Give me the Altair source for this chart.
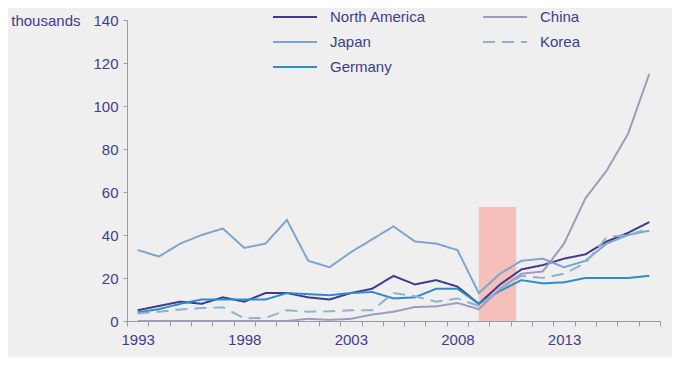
import altair as alt
import pandas as pd

years = list(range(1993, 2018))
north_america = [5, 7, 9, 8, 11, 9, 13, 13, 11, 10, 13, 15, 21, 17, 19, 16, 8, 17, 24, 26, 29, 31, 37, 41, 46]
japan = [33, 30, 36, 40, 43, 34, 36, 47, 28, 25, 32, 38, 44, 37, 36, 33, 13, 22, 28, 29, 25, 28, 36, 40, 42]
germany = [4, 5.5, 8, 10, 10, 10, 10, 13, 12.5, 12, 13, 13.5, 10.5, 11, 15, 15, 8, 14, 19, 17.5, 18, 20, 20, 20, 21]
china = [0, 0, 0, 0, 0, 0, 0, 0, 1, 0.5, 1, 3, 4.3, 6.5, 6.8, 8.4, 5.5, 15, 22, 23, 36, 57, 70, 87, 115]
korea = [3.5, 4.3, 5.4, 6, 6.4, 1.2, 1.5, 5, 4.3, 4.5, 5, 5, 13, 11.5, 9, 10.5, 7, 15, 21, 20, 22, 27, 39, 40, 43]

series_names = ["North America", "Japan", "Germany", "China", "Korea"]
series_colors = ["#3e3b8c", "#7fa5cb", "#2f8dc6", "#9d9cb9", "#8fb2d2"]
series_dashes = [[1, 0], [1, 0], [1, 0], [1, 0], [12, 7]]
legend_columns = [0, 0, 0, 1, 1]
legend_rows = [0, 1, 2, 0, 1]

label_years = [1993, 1998, 2003, 2008, 2013]
y_ticks = [0, 20, 40, 60, 80, 100, 120, 140]
recession_start, recession_end, recession_height = 2009, 2010.75, 53

series_values = {
    "North America": north_america,
    "China": china,
    "Japan": japan,
    "Korea": korea,
    "Germany": germany,
}
rows = []
for name in series_names:
    for yr, v in zip(years, series_values[name]):
        rows.append({"year": yr, "value": v, "region": name})
df = pd.DataFrame(rows)

rect_df = pd.DataFrame([{"x": recession_start, "x2": recession_end, "y": 0, "y2": recession_height}])

# legend layout (pixels relative to the plot area)
LEG_X0, LEG_COL_W, LEG_Y0, LEG_ROW_H, SYM_W, LAB_GAP = 146, 210, -3, 25, 44, 13
legend_df = pd.DataFrame(
    [
        {
            "region": n,
            "px": LEG_X0 + c * LEG_COL_W,
            "px2": LEG_X0 + c * LEG_COL_W + SYM_W,
            "tx": LEG_X0 + c * LEG_COL_W + SYM_W + LAB_GAP,
            "py": LEG_Y0 + r * LEG_ROW_H,
        }
        for n, c, r in zip(series_names, legend_columns, legend_rows)
    ]
)

text_color = "#3f3d8e"
font = "Liberation Sans"

x_values = [1992.5 + k for k in range(len(years) + 1)] + label_years

x_scale = alt.Scale(domain=[1992.5, 2017.5], nice=False, zero=False)
y_scale = alt.Scale(domain=[0, 140], nice=False)
color_scale = alt.Scale(domain=series_names, range=series_colors)
dash_scale = alt.Scale(domain=series_names, range=series_dashes)

x_axis = alt.Axis(
    values=x_values,
    title=None,
    grid=False,
    labelExpr="datum.value % 1 === 0 ? '' + datum.value : ''",
    labelOverlap=False,
    labelFlush=False,
    tickOpacity={"condition": {"test": "datum.value % 1 === 0", "value": 0}, "value": 1},
    tickSize=5,
    labelPadding=6,
    domainColor="#9a9aa8",
    tickColor="#9a9aa8",
    labelColor=text_color,
    labelFont=font,
    labelFontSize=15,
)
y_axis = alt.Axis(
    values=y_ticks,
    title="thousands",
    titleAngle=0,
    titleAlign="right",
    titleBaseline="middle",
    titleX=-47,
    titleY=0,
    titleColor=text_color,
    titleFont=font,
    titleFontSize=15,
    titleFontWeight="normal",
    grid=False,
    tickSize=4,
    labelPadding=5,
    domainColor="#9a9aa8",
    tickColor="#9a9aa8",
    labelColor=text_color,
    labelFont=font,
    labelFontSize=15,
)

rect = alt.Chart(rect_df).mark_rect(color="#f5bfba").encode(
    x=alt.X("x:Q", scale=x_scale, axis=x_axis),
    x2="x2:Q",
    y=alt.Y("y:Q", scale=y_scale, axis=y_axis),
    y2="y2:Q",
)

lines = alt.Chart(df).mark_line(strokeWidth=2).encode(
    x=alt.X("year:Q", scale=x_scale, axis=x_axis),
    y=alt.Y("value:Q", scale=y_scale, axis=y_axis),
    color=alt.Color("region:N", scale=color_scale, legend=None),
    strokeDash=alt.StrokeDash("region:N", scale=dash_scale, legend=None),
    order=alt.Order("year:Q"),
)

legend_lines = alt.Chart(legend_df).mark_rule(strokeWidth=2).encode(
    x=alt.X("px:Q", scale=None, axis=None),
    x2="px2:Q",
    y=alt.Y("py:Q", scale=None, axis=None),
    color=alt.Color("region:N", scale=color_scale, legend=None),
    strokeDash=alt.StrokeDash("region:N", scale=dash_scale, legend=None),
)

legend_text = alt.Chart(legend_df).mark_text(
    align="left", baseline="middle", font=font, fontSize=15, color=text_color
).encode(
    x=alt.X("tx:Q", scale=None, axis=None),
    y=alt.Y("py:Q", scale=None, axis=None),
    text="region:N",
)

chart = (
    alt.layer(rect, lines, legend_lines, legend_text)
    .properties(
        width=533,
        height=301,
        background="#efeff0",
        padding={"left": 119, "top": 12, "right": 12, "bottom": 36},
        autosize=alt.AutoSizeParams(type="none"),
    )
    .configure_view(stroke=None)
)

chart.save("out.html", embed_options={"renderer": "svg", "actions": False})
